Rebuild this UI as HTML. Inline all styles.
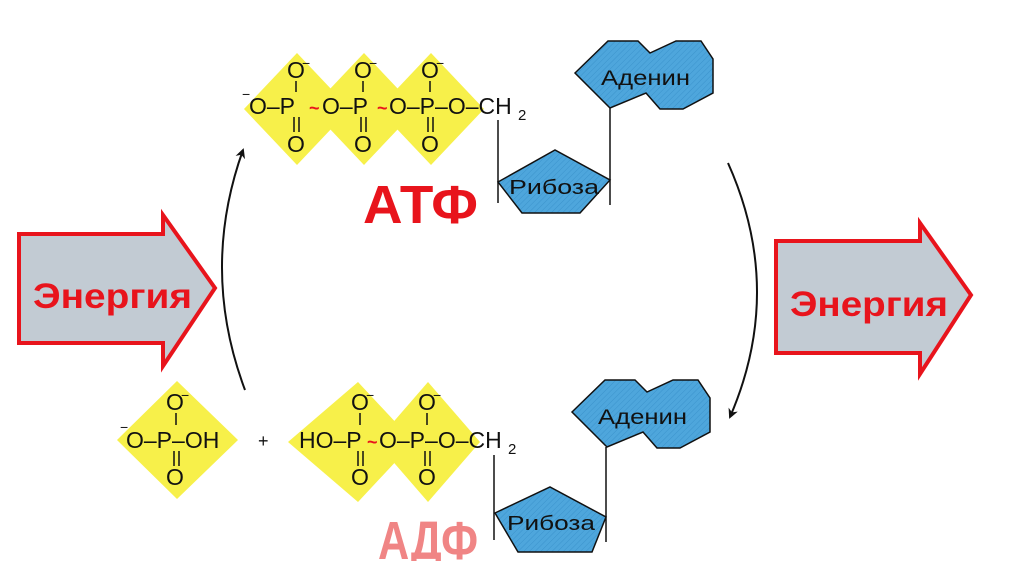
<!DOCTYPE html>
<html><head><meta charset="utf-8"><style>
html,body{margin:0;padding:0;background:#fff;}
svg{display:block;}
.t{font-family:"Liberation Sans",sans-serif;font-size:23px;fill:#111;}
.l{font-family:"Liberation Sans",sans-serif;fill:#111;}
</style></head><body>
<svg width="1024" height="561" viewBox="0 0 1024 561" xmlns="http://www.w3.org/2000/svg">
<defs>
<pattern id="h" width="4" height="4" patternUnits="userSpaceOnUse" patternTransform="rotate(45)">
<rect width="4" height="4" fill="#4ea6dc"/><line x1="0" y1="0" x2="0" y2="4" stroke="#3b93cc" stroke-width="1"/>
</pattern>
<marker id="ah" markerWidth="10" markerHeight="10" refX="8" refY="5" orient="auto" markerUnits="userSpaceOnUse">
<path d="M0,0 L10,5 L0,10 L3,5 Z" fill="#111"/></marker>
</defs>
<rect width="1024" height="561" fill="#fff"/>

<path d="M19,234 L163,234 L163,215 L215,288 L163,366 L163,343 L19,343 Z" fill="#c2cbd3" stroke="#e8141c" stroke-width="4" stroke-linejoin="miter"/>
<text x="33" y="308" class="l" textLength="159" lengthAdjust="spacingAndGlyphs" style="font-size:35px;font-weight:bold;fill:#e8141c">Энергия</text>
<path d="M776,241 L920,241 L920,223 L971,295 L920,374 L920,353 L776,353 Z" fill="#c2cbd3" stroke="#e8141c" stroke-width="4"/>
<text x="790" y="316" class="l" textLength="158" lengthAdjust="spacingAndGlyphs" style="font-size:35px;font-weight:bold;fill:#e8141c">Энергия</text>

<path d="M245,390 Q200,270 243,150" fill="none" stroke="#111" stroke-width="2" marker-end="url(#ah)"/>
<path d="M728,163 Q785,290 730,417" fill="none" stroke="#111" stroke-width="2" marker-end="url(#ah)"/>

<g fill="#f7f04a">
<polygon points="297,53 350,109 297,165 244,109"/>
<polygon points="364,53 417,109 364,165 311,109"/>
<polygon points="431,53 484,109 431,165 378,109"/>
</g>
<g class="t">
<text x="287" y="78">O</text><text x="302" y="68" style="font-size:14px">−</text>
<text x="354" y="78">O</text><text x="369" y="68" style="font-size:14px">−</text>
<text x="421" y="78">O</text><text x="436" y="68" style="font-size:14px">−</text>
<text x="242" y="99" style="font-size:14px">−</text>
<text x="249" y="114">O–P</text>
<text x="309" y="114" style="fill:#e8141c;font-weight:bold;font-size:18px">~</text>
<text x="322" y="114">O–P</text>
<text x="377" y="114" style="fill:#e8141c;font-weight:bold;font-size:18px">~</text>
<text x="389" y="114">O–P–O–CH</text><text x="518" y="120" style="font-size:15px">2</text>
<text x="287" y="152">O</text><text x="354" y="152">O</text><text x="421" y="152">O</text>
</g>
<g stroke="#111" stroke-width="1.5">
<line x1="296" y1="81" x2="296" y2="92"/><line x1="363" y1="81" x2="363" y2="92"/><line x1="430" y1="81" x2="430" y2="92"/>
<line x1="294" y1="117" x2="294" y2="132"/><line x1="299" y1="117" x2="299" y2="132"/>
<line x1="361" y1="117" x2="361" y2="132"/><line x1="366" y1="117" x2="366" y2="132"/>
<line x1="428" y1="117" x2="428" y2="132"/><line x1="433" y1="117" x2="433" y2="132"/>
<line x1="498" y1="120" x2="498" y2="203"/><line x1="610" y1="108" x2="610" y2="205"/>
</g>
<polygon points="498,182 555,150 610,180 580,213 522,213" fill="url(#h)" stroke="#111" stroke-width="1.5"/>
<polygon points="575,73 608,41 638,41 650,53 676,41 701,41 713,59 713,93 683,109 660,109 646,93 610,108" fill="url(#h)" stroke="#111" stroke-width="1.5"/>
<text x="601" y="85" class="l" textLength="89" lengthAdjust="spacingAndGlyphs" style="font-size:21px">Аденин</text>
<text x="509" y="194" class="l" textLength="90" lengthAdjust="spacingAndGlyphs" style="font-size:20px">Рибоза</text>
<text x="363" y="223" class="l" textLength="115" lengthAdjust="spacingAndGlyphs" style="font-size:54px;font-weight:bold;fill:#e8141c">АТФ</text>

<g fill="#f7f04a">
<polygon points="177,381 238,440 177,499 117,440"/>
<polygon points="358,382 414,442 358,502 288,442"/>
<polygon points="428,382 480,442 428,502 376,442"/>
</g>
<g class="t">
<text x="166" y="410">O</text><text x="181" y="400" style="font-size:14px">−</text>
<text x="120" y="432" style="font-size:14px">−</text>
<text x="126" y="448">O–P–OH</text>
<text x="166" y="485">O</text>
<text x="258" y="447" style="font-size:18px">+</text>
<text x="299" y="448">HO–P</text>
<text x="367" y="448" style="fill:#e8141c;font-weight:bold;font-size:18px">~</text>
<text x="379" y="448">O–P–O–CH</text><text x="508" y="454" style="font-size:15px">2</text>
<text x="351" y="410">O</text><text x="366" y="400" style="font-size:14px">−</text>
<text x="418" y="410">O</text><text x="433" y="400" style="font-size:14px">−</text>
<text x="351" y="485">O</text><text x="418" y="485">O</text>
</g>
<g stroke="#111" stroke-width="1.5">
<line x1="176" y1="413" x2="176" y2="425"/><line x1="360" y1="413" x2="360" y2="425"/><line x1="427" y1="413" x2="427" y2="425"/>
<line x1="174" y1="451" x2="174" y2="466"/><line x1="179" y1="451" x2="179" y2="466"/>
<line x1="358" y1="451" x2="358" y2="466"/><line x1="363" y1="451" x2="363" y2="466"/>
<line x1="425" y1="451" x2="425" y2="466"/><line x1="430" y1="451" x2="430" y2="466"/>
<line x1="494" y1="455" x2="494" y2="540"/><line x1="606" y1="447" x2="606" y2="542"/>
</g>
<polygon points="495,513 550,487 606,517 592,552 518,552" fill="url(#h)" stroke="#111" stroke-width="1.5"/>
<polygon points="572,412 605,380 635,380 647,392 673,380 698,380 710,398 710,432 680,448 657,448 643,432 607,447" fill="url(#h)" stroke="#111" stroke-width="1.5"/>
<text x="598" y="424" class="l" textLength="89" lengthAdjust="spacingAndGlyphs" style="font-size:21px">Аденин</text>
<text x="507" y="530" class="l" textLength="88" lengthAdjust="spacingAndGlyphs" style="font-size:20px">Рибоза</text>
<text x="378" y="559" class="l" textLength="100" lengthAdjust="spacingAndGlyphs" style="font-size:54px;font-weight:bold;fill:#f08585">АДФ</text>
</svg>
</body></html>
